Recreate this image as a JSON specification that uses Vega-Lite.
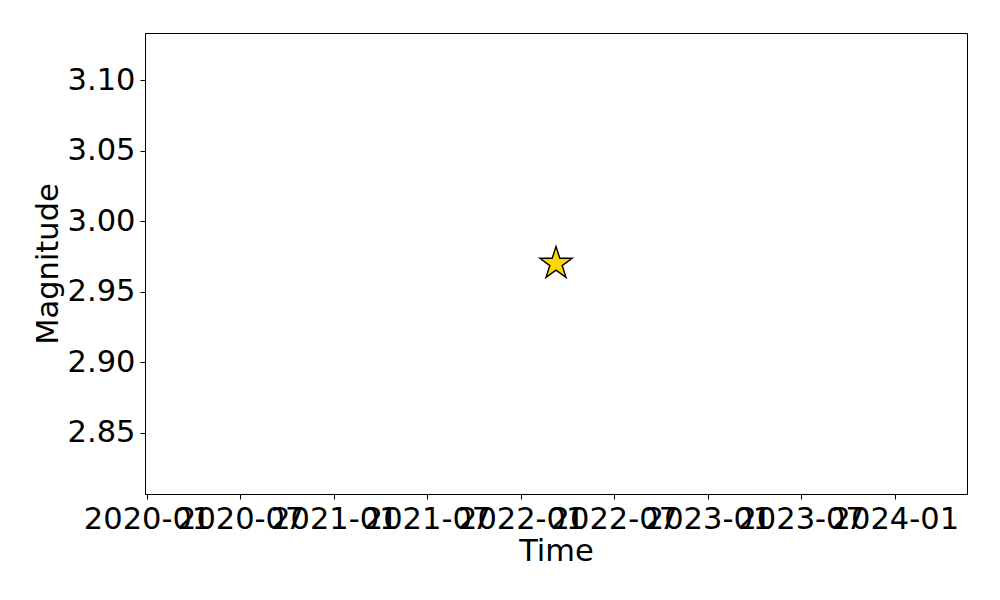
{
  "$schema": "https://vega.github.io/schema/vega-lite/v6.json",
  "autosize": "none",
  "width": 822,
  "height": 461,
  "padding": {"left": 145, "top": 33, "right": 33, "bottom": 106},
  "background": "white",
  "config": {
    "view": {"stroke": "black", "strokeWidth": 1},
    "axis": {
      "grid": false,
      "domainColor": "black",
      "tickColor": "black",
      "tickSize": 5,
      "labelFont": "DejaVu Sans",
      "labelFontSize": 30.5,
      "labelColor": "black",
      "titleFont": "DejaVu Sans",
      "titleFontSize": 30.5,
      "titleFontWeight": "normal",
      "titleColor": "black",
      "labelPadding": 5
    }
  },
  "data": {"values": [{"time": "2022-03-10", "magnitude": 2.97}]},
  "mark": {"type": "point", "shape": "M0,-1L0.2245,-0.309L0.9511,-0.309L0.3633,0.118L0.5878,0.809L0,0.382L-0.5878,0.809L-0.3633,0.118L-0.9511,-0.309L-0.2245,-0.309Z", "filled": true, "fill": "#FFD700", "stroke": "black", "strokeWidth": 1.4, "size": 1156, "opacity": 1},
  "encoding": {
    "x": {
      "field": "time",
      "type": "temporal",
      "title": "Time",
      "scale": {"domain": ["2019-12-28", "2024-05-21"], "nice": false},
      "axis": {
        "orient": "bottom",
        "values": ["2020-01-01", "2020-07-01", "2021-01-01", "2021-07-01", "2022-01-01", "2022-07-01", "2023-01-01", "2023-07-01", "2024-01-01"],
        "format": "%Y-%m",
        "labelOverlap": false,
        "labelFlush": false,
        "labelBound": false,
        "titlePadding": 2
      }
    },
    "y": {
      "field": "magnitude",
      "type": "quantitative",
      "title": "Magnitude",
      "scale": {"domain": [2.8067, 3.1334], "nice": false, "zero": false},
      "axis": {
        "orient": "left",
        "values": [2.85, 2.9, 2.95, 3.0, 3.05, 3.1],
        "format": ".2f",
        "titlePadding": 4
      }
    }
  }
}
